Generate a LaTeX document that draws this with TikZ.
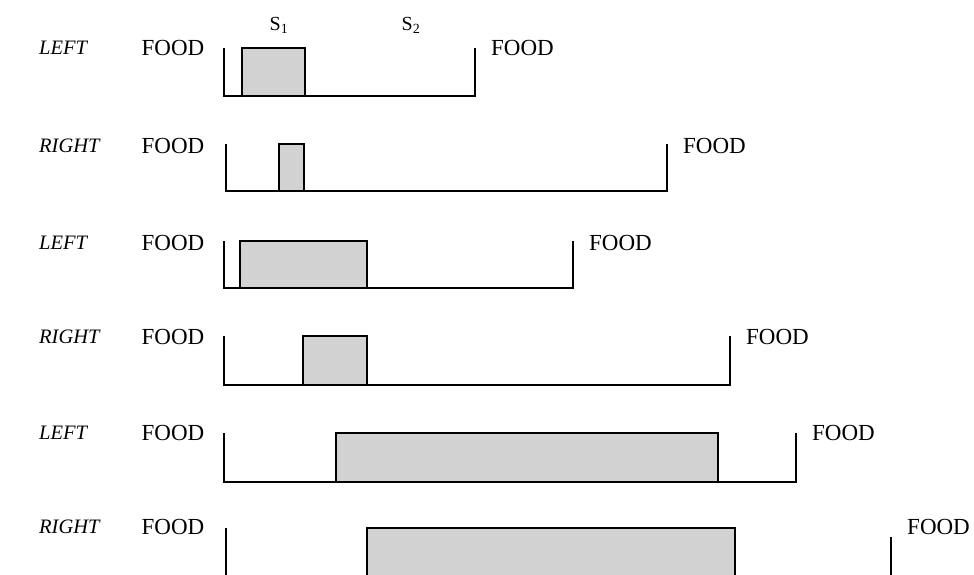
\documentclass[tikz,border=0pt]{standalone}
\usepackage{fontspec}
\setmainfont{Liberation Serif}
\usetikzlibrary{positioning}
\definecolor{StipGray}{RGB}{210,210,210}
\tikzset{
  wall/.style={draw=black,line width=2pt},
  chunk/.style={draw=black,fill=StipGray,line width=2.2pt},
  food/.style={inner sep=0pt,font=\fontsize{23}{25}\selectfont},
  side/.style={inner sep=0pt,anchor=west,font=\fontsize{20.5}{22}\selectfont\itshape},
  sym/.style={inner sep=0pt,font=\fontsize{20}{22}\selectfont},
}

\begin{document}
\begin{tikzpicture}[x=1pt,y=-1pt]
\clip (0,0) rectangle (974,574);
\node[sym] (s1) at (279,25) {S\textsubscript{1}};
\node[sym] (s2) at (411,25) {S\textsubscript{2}};
\foreach \r/\lab/\yl/\yt/\yb/\xl/\xr/\rt/\ba/\bb in {
  1/LEFT/48/48/96/224/475/48/242/305,
  2/RIGHT/146/144/191/226/667/144/279/304,
  3/LEFT/243/241/288/224/573/241/240/367,
  4/RIGHT/337/336/385/224/730/336/303/367,
  5/LEFT/433/433/482/224/796/433/336/718,
  6/RIGHT/527/528/600/226/891/537/367/735}{
  \coordinate (tl\r) at (\xl,\yt);
  \coordinate (tr\r) at (\xr,\rt);
  \draw[chunk] (\ba,\yb) rectangle (\bb,\yt);
  \draw[wall] (tl\r) |- (\xr,\yb) -- (tr\r);
  \node[side] (side\r) at (39,\yl) {\lab};
  \node[food] (foodl\r) at (173,\yl) {FOOD};
  \node[food,anchor=west] (foodr\r) at (\xr+16,\yl) {FOOD};
}
\end{tikzpicture}
\end{document}
